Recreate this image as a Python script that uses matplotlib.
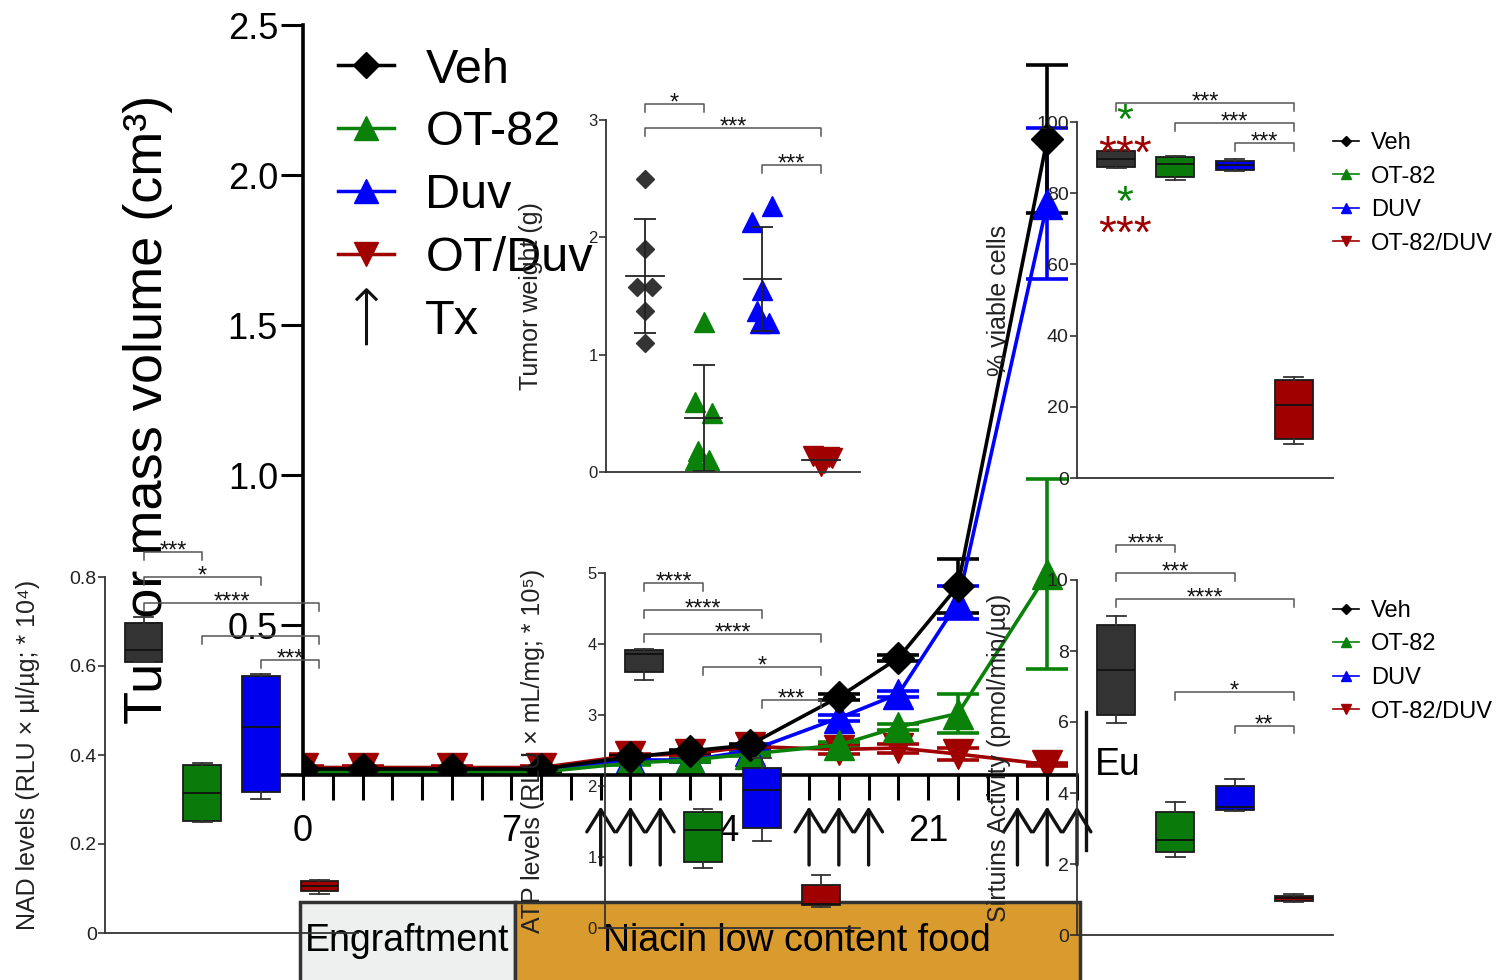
import numpy as np
import matplotlib.pyplot as plt
from matplotlib.lines import Line2D
from matplotlib.patches import Rectangle
from matplotlib.path import Path

plt.rcParams['font.family'] = ['Liberation Sans', 'DejaVu Sans']

W, H = 1504, 980

# --- tumour growth (cm3), mean and error per measurement day
days = [0, 2, 5, 8, 11, 13, 15, 18, 20, 22, 25]
veh_vol = [0.02, 0.02, 0.02, 0.02, 0.06, 0.08, 0.10, 0.26, 0.39, 0.63, 2.12]
veh_err = [0.005, 0.005, 0.005, 0.005, 0.005, 0.005, 0.005, 0.01, 0.01, 0.09, 0.245]
ot_vol = [0.01, 0.01, 0.01, 0.01, 0.04, 0.05, 0.07, 0.10, 0.16, 0.205, 0.67]
ot_err = [0.005, 0.005, 0.005, 0.005, 0.005, 0.005, 0.005, 0.01, 0.01, 0.065, 0.315]
duv_vol = [0.01, 0.01, 0.01, 0.015, 0.05, 0.05, 0.08, 0.19, 0.27, 0.575, 1.905]
duv_err = [0.005, 0.005, 0.005, 0.005, 0.005, 0.005, 0.005, 0.01, 0.01, 0.055, 0.25]
otduv_vol = [0.025, 0.025, 0.025, 0.025, 0.065, 0.07, 0.095, 0.085, 0.09, 0.07, 0.035]
otduv_err = [0.005, 0.005, 0.005, 0.005, 0.005, 0.005, 0.005, 0.015, 0.015, 0.02, 0.005]
tx_days = [10, 11, 12, 17, 18, 19, 24, 25, 26]

# --- tumour weight (g)
tw_veh = [2.5, 1.9, 1.58, 1.58, 1.37, 1.1]
tw_ot = [1.28, 0.6, 0.5, 0.18, 0.1, 0.1]
tw_duv = [2.27, 2.13, 1.55, 1.37, 1.27, 1.27]
tw_otduv = [0.14, 0.13, 0.1, 0.08, 0.05, 0.12]
tw_jitter = [[0, 0, -0.13, 0.13, 0, 0],
             [0, -0.15, 0.15, -0.1, -0.15, 0.1],
             [0.17, -0.17, 0, -0.1, -0.04, 0.12],
             [-0.14, 0.14, -0.05, 0.05, 0, 0.18]]

# --- box summaries: (min, q1, median, q3, max)
nad_boxes = [(0.61, 0.61, 0.637, 0.697, 0.71),
             (0.249, 0.251, 0.315, 0.378, 0.382),
             (0.301, 0.316, 0.463, 0.578, 0.582),
             (0.088, 0.094, 0.105, 0.116, 0.12)]
atp_boxes = [(3.5, 3.6, 3.86, 3.92, 3.93),
             (0.84, 0.93, 1.38, 1.63, 1.67),
             (1.23, 1.41, 1.94, 2.25, 2.4),
             (0.3, 0.32, 0.34, 0.6, 0.74)]
viable_boxes = [(87.1, 87.5, 89.7, 91.8, 92.2),
                (83.6, 84.6, 88.2, 90.1, 90.4),
                (86.1, 86.4, 87.8, 89.0, 89.7),
                (9.6, 11.0, 20.6, 27.6, 28.3)]
sirt_boxes = [(5.97, 6.2, 7.46, 8.73, 8.99),
              (2.2, 2.34, 2.68, 3.46, 3.75),
              (3.49, 3.52, 3.6, 4.2, 4.39),
              (0.93, 0.96, 1.03, 1.1, 1.15)]

# significance brackets: (group a, group b, height, label)
nad_sig = [(1, 2, 0.856, '***'), (1, 3, 0.80, '*'), (1, 4, 0.742, '****'),
           (2, 4, 0.667, ''), (3, 4, 0.613, '***')]
atp_sig = [(1, 2, 4.86, '****'), (1, 3, 4.48, '****'), (1, 4, 4.14, '****'),
           (2, 4, 3.68, '*'), (3, 4, 3.21, '***')]
sirt_sig = [(1, 2, 11.0, '****'), (1, 3, 10.2, '***'), (1, 4, 9.46, '****'),
            (2, 4, 6.85, '*'), (3, 4, 5.9, '**')]
viable_sig = [(1, 4, 105.3, '***'), (2, 4, 99.7, '***'), (3, 4, 94.1, '***')]
tw_sig = [(1, 2, 3.14, '*'), (1, 4, 2.93, '***'), (3, 4, 2.62, '***')]

BLACK, GREEN, BLUE, RED = '#000000', '#0a820a', '#0000ff', '#a00000'
box_colors = ['#333333', '#0a7a0a', '#0000ee', '#a00000']
positions = [1, 2, 3, 4]

fig = plt.figure(figsize=(W / 100, H / 100), dpi=100)


def px_axes(x0, y_top, x1, y_bot, z=1):
    ax = fig.add_axes([x0 / W, 1 - y_bot / H, (x1 - x0) / W, (y_bot - y_top) / H], zorder=z)
    ax.set_facecolor('none')
    return ax


def style_panel(ax, ylim, yticks, ylabel, label_x, tick_fs=14):
    ax.set_xlim(0.34, 4.66)
    ax.set_ylim(*ylim)
    for s in ['top', 'right']:
        ax.spines[s].set_visible(False)
    for s in ['left', 'bottom']:
        ax.spines[s].set_color('#333333')
        ax.spines[s].set_linewidth(1.3)
    ax.set_xticks([])
    ax.set_yticks(yticks)
    ax.set_yticklabels(['0'] + [f'{t:g}' for t in yticks[1:]])
    ax.tick_params(axis='y', length=5, width=1.1, labelsize=tick_fs, pad=1, colors='#222222')
    ax.set_ylabel(ylabel, fontsize=18, color='#222222')
    ax.yaxis.set_label_coords(label_x, 0.5)


def draw_boxes(ax, boxes):
    stats = [dict(whislo=b[0], q1=b[1], med=b[2], q3=b[3], whishi=b[4], fliers=[]) for b in boxes]
    res = ax.bxp(stats, positions=positions, widths=0.64, patch_artist=True, showfliers=False,
                 capwidths=0.32,
                 boxprops=dict(linewidth=1.3, edgecolor='#1a1a1a'),
                 medianprops=dict(color='#111111', linewidth=1.3),
                 whiskerprops=dict(color='#333333', linewidth=1.3),
                 capprops=dict(color='#333333', linewidth=1.3))
    for patch, c in zip(res['boxes'], box_colors):
        patch.set_facecolor(c)
    ax.set_xticks([])
    ax.set_xlim(0.34, 4.66)


def draw_brackets(ax, sigs, leg):
    for a, b, y, lab in sigs:
        ax.plot([a, a, b, b], [y - leg, y, y, y - leg], color='#555555', lw=1.1, clip_on=False)
        if lab:
            ax.annotate(lab, xy=((a + b) / 2, y), xytext=(0, -4), textcoords='offset points',
                        ha='center', va='baseline', fontsize=17, color='#111111',
                        annotation_clip=False)


# ---------------- main growth curve ----------------
ax = px_axes(303, 25, 1077, 775, z=0)
ax.set_xlim(0, 26)
ax.set_ylim(0, 2.5)
ax.spines['top'].set_visible(False)
ax.spines['right'].set_visible(False)
ax.spines['bottom'].set_bounds(-0.7, 26)
for s in ['left', 'bottom']:
    ax.spines[s].set_linewidth(2.6)

series = [(otduv_vol, otduv_err, RED, 'v', 22),
          (duv_vol, duv_err, BLUE, '^', 21),
          (ot_vol, ot_err, GREEN, '^', 21),
          (veh_vol, veh_err, BLACK, 'D', 16)]
for vol, err, c, m, ms in series:
    ax.errorbar(days, vol, yerr=err, color=c, marker=m, ms=ms, lw=2.6, elinewidth=2.6,
                capsize=15, capthick=2.6)

ax.set_xticks(range(27))
ax.set_xticklabels([str(d) if d % 7 == 0 else '' for d in range(27)])
ax.set_yticks([0.5, 1.0, 1.5, 2.0, 2.5])
ax.set_yticklabels(['0.5', '1.0', '1.5', '2.0', '2.5'])
ax.tick_params(axis='x', length=18, width=2.2, labelsize=26, pad=10)
ax.tick_params(axis='y', length=16, width=2.2, labelsize=26, pad=2)
ax.set_ylabel('Tumor mass volume (cm³)', fontsize=39)
ax.yaxis.set_label_coords(-0.168, 0.487)

# treatment arrows under the time axis
for d in tx_days:
    ax.annotate('', xy=(d, -0.105), xytext=(d, -0.30),
                arrowprops=dict(arrowstyle='->,head_length=0.4,head_width=0.25', lw=2.4,
                                color='#111111', mutation_scale=40, shrinkA=0, shrinkB=0),
                annotation_clip=False)

# diet periods
ax.add_patch(Rectangle((-0.1, -0.70), 7.22, 0.277, facecolor='#eef0f0', edgecolor='#333333',
                       lw=2.5, clip_on=False))
ax.add_patch(Rectangle((7.12, -0.70), 18.98, 0.277, facecolor='#d99b2e', edgecolor='#333333',
                       lw=2.5, clip_on=False))
ax.text(3.5, -0.553, 'Engraftment', ha='center', va='center', fontsize=27, clip_on=False)
ax.text(16.6, -0.553, 'Niacin low content food', ha='center', va='center', fontsize=27,
        clip_on=False)
ax.plot([26.3, 26.3], [0.21, -0.25], color='#111111', lw=2.4, clip_on=False)
ax.text(26.6, 0.033, 'Eu', ha='left', va='center', fontsize=27, clip_on=False)

# open arrow glyph for the treatment legend entry
arrow_marker = Path([(0, -1), (0, 1), (-0.38, 0.62), (0, 1), (0.38, 0.62)],
                    [Path.MOVETO, Path.LINETO, Path.MOVETO, Path.LINETO, Path.LINETO])
main_handles = [Line2D([], [], color=BLACK, marker='D', ms=13, lw=2.5),
                Line2D([], [], color=GREEN, marker='^', ms=17, lw=2.5),
                Line2D([], [], color=BLUE, marker='^', ms=17, lw=2.5),
                Line2D([], [], color=RED, marker='v', ms=17, lw=2.5),
                Line2D([], [], ls='none', marker=arrow_marker, ms=40, mew=2.2,
                       mfc='none', color='#111111')]
ax.legend(main_handles, ['Veh', 'OT-82', 'Duv', 'OT/Duv', 'Tx'], loc='upper left',
          bbox_to_anchor=(0.045, 0.97), frameon=False, fontsize=35, handlelength=1.15,
          handletextpad=0.65, labelspacing=0.37, borderpad=0, borderaxespad=0)

# ---------------- tumour weight inset ----------------
axw = px_axes(606, 120, 860, 472)
style_panel(axw, (0, 3), [0, 1, 2, 3], 'Tumor weight (g)', -0.248, tick_fs=12)
tw_sets = [(tw_veh, '#333333', 'D', 9), (tw_ot, GREEN, '^', 14),
           (tw_duv, BLUE, '^', 14), (tw_otduv, RED, 'v', 14)]
for pos, (vals, c, m, ms), jit in zip(positions, tw_sets, tw_jitter):
    axw.plot(pos + np.array(jit), vals, ls='none', marker=m, ms=ms, color=c, clip_on=False)
    mean, sd = np.mean(vals), np.std(vals, ddof=1)
    axw.plot([pos - 0.32, pos + 0.32], [mean, mean], color='#222222', lw=1.3)
    if pos < 4:
        axw.errorbar([pos], [mean], yerr=[sd], color='#222222', lw=1.3, capsize=8, capthick=1.3)
draw_brackets(axw, tw_sig, 0.07)

# ---------------- viable cells ----------------
axv = px_axes(1077, 122, 1333, 478)
style_panel(axv, (0, 100), [0, 20, 40, 60, 80, 100], '% viable cells', -0.258)
draw_boxes(axv, viable_boxes)
draw_brackets(axv, viable_sig, 2.3)
axv.text(1.15, 100, '*', color=GREEN, fontsize=31, ha='center', va='center', clip_on=False)
axv.text(1.15, 90.5, '***', color=RED, fontsize=33, ha='center', va='center', clip_on=False)
axv.text(1.15, 77, '*', color=GREEN, fontsize=31, ha='center', va='center', clip_on=False)
axv.text(1.15, 68, '***', color=RED, fontsize=33, ha='center', va='center', clip_on=False)

# ---------------- NAD ----------------
axn = px_axes(105, 577, 358, 933)
style_panel(axn, (0, 0.8), [0, 0.2, 0.4, 0.6, 0.8], 'NAD levels (RLU × µl/µg; * 10⁴)', -0.257)
draw_boxes(axn, nad_boxes)
draw_brackets(axn, nad_sig, 0.018)

# ---------------- ATP ----------------
axa = px_axes(605, 573, 860, 928)
style_panel(axa, (0, 5), [0, 1, 2, 3, 4, 5], 'ATP levels (RLU × mL/mg; * 10⁵)', -0.235,
            tick_fs=12)
draw_boxes(axa, atp_boxes)
draw_brackets(axa, atp_sig, 0.11)

# ---------------- sirtuins ----------------
axs = px_axes(1077, 580, 1333, 935)
style_panel(axs, (0, 10), [0, 2, 4, 6, 8, 10], 'Sirtuins Activity (pmol/min/µg)', -0.258)
draw_boxes(axs, sirt_boxes)
draw_brackets(axs, sirt_sig, 0.22)

# small legends for the box panels
small_handles = [Line2D([], [], color=BLACK, marker='D', ms=5, lw=1.2),
                 Line2D([], [], color=GREEN, marker='^', ms=7, lw=1.2),
                 Line2D([], [], color=BLUE, marker='^', ms=7, lw=1.2),
                 Line2D([], [], color=RED, marker='v', ms=7, lw=1.2)]
small_labels = ['Veh', 'OT-82', 'DUV', 'OT-82/DUV']
for axp, top in ((axv, 0.972), (axs, 0.944)):
    axp.legend(small_handles, small_labels, loc='upper left', bbox_to_anchor=(1.0, top),
               frameon=False, fontsize=17, handlelength=1.1, handletextpad=0.5,
               labelspacing=0.49, borderpad=0, borderaxespad=0)

fig.savefig('out.png', dpi=100)
